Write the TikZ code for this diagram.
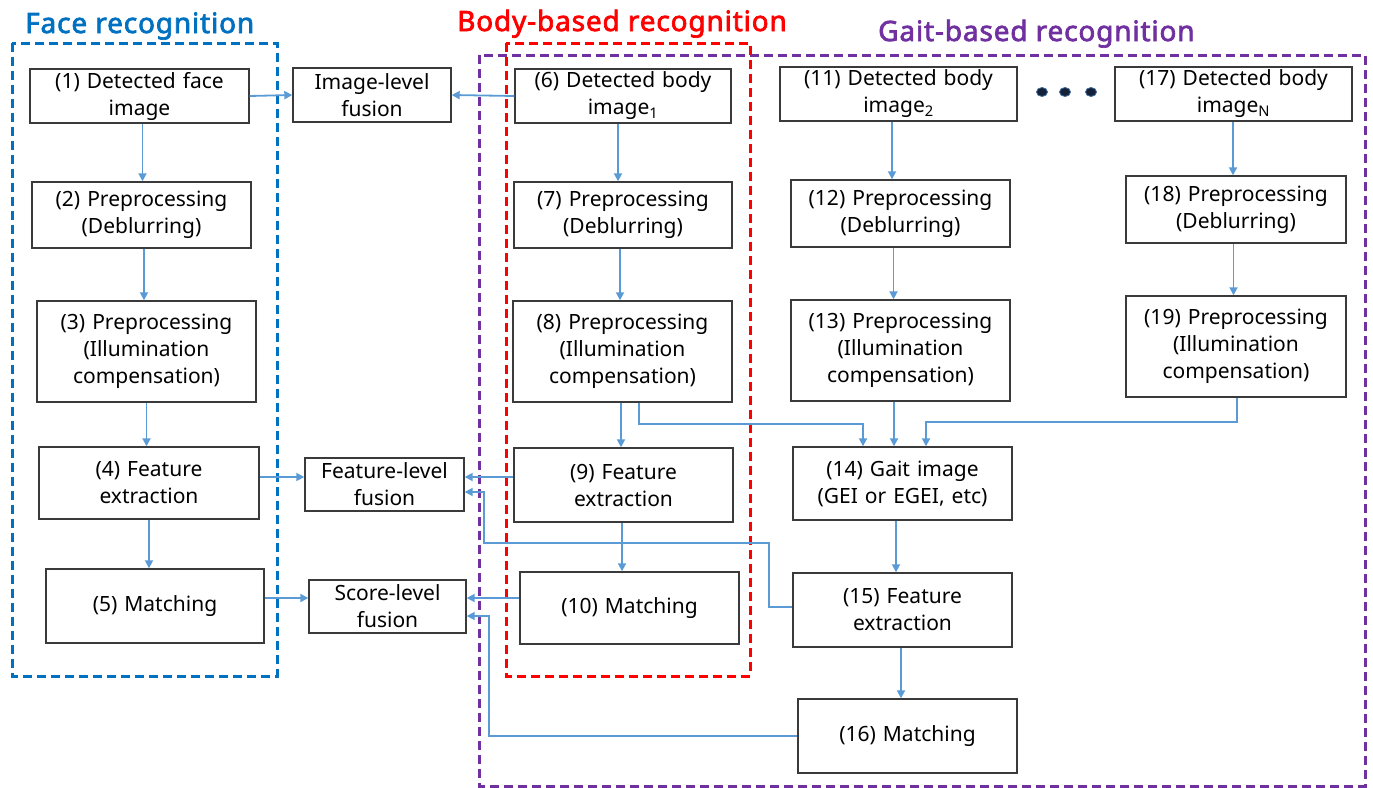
\documentclass[tikz,border=0pt]{standalone}
\usepackage{fontspec}
\setmainfont{Noto Sans}
\newfontfamily\ttlfont{Noto Sans}[AutoFakeBold=2.5,LetterSpace=3]
\usetikzlibrary{arrows.meta,calc}
\definecolor{facec}{HTML}{0070C0}
\definecolor{bodyc}{HTML}{FF0000}
\definecolor{gaitc}{HTML}{7030A0}
\definecolor{conn}{HTML}{5B9BD5}
\definecolor{boxc}{HTML}{3A3A3A}
\definecolor{dotc}{HTML}{14213A}
\begin{document}
\begin{tikzpicture}[x=1pt,y=-1pt,
  bx/.style={draw=boxc,line width=1.4pt,fill=white,inner sep=0pt,align=center,
    font=\fontsize{21}{27}\selectfont,text width=#1-8pt,minimum width=#1},
  bx/.default=219pt,
  frame/.style={line width=3pt,dash pattern=on 9pt off 5pt},
  ttl/.style={anchor=base west,inner sep=0pt,font=\ttlfont\fontsize{28}{30}\selectfont\bfseries},
  arr/.style={draw=conn,line width=1.8pt,-{Triangle[length=8pt,width=8pt]}},
  ln/.style={draw=conn,line width=1.8pt}]
\useasboundingbox (0,0) rectangle (1373,787);

% titles
\node[ttl,text=facec] (tface) at (25,33) {Face recognition};
\node[ttl,text=bodyc] (tbody) at (457,31) {Body-based recognition};
\node[ttl,text=gaitc] (tgait) at (878,41) {Gait-based recognition};

% dashed frames
\draw[frame,draw=facec] (12,43) rectangle (277,676);
\draw[frame,draw=gaitc] (479,55) rectangle (1365,786);
\draw[frame,draw=bodyc] (506,43) rectangle (750,676);

% boxes
\node[bx,minimum height=54pt] (n1) at (139.5,96) {(1) Detected face\\image};
\node[bx=158pt,minimum height=54pt] (nIL) at (372,95) {Image-level\\fusion};
\node[bx,minimum height=66pt] (n2) at (141.5,215) {(2) Preprocessing\\(Deblurring)};
\node[bx,minimum height=101pt] (n3) at (146.5,351.5) {(3) Preprocessing\\(Illumination\\compensation)};
\node[bx=220pt,minimum height=72pt] (n4) at (149,483) {(4) Feature\\extraction};
\node[bx=159pt,minimum height=53pt] (nFL) at (384.5,484.5) {Feature-level\\fusion};
\node[bx=218pt,minimum height=74pt] (n5) at (155,606) {(5) Matching};
\node[bx=157pt,minimum height=53pt] (nSL) at (387.5,606.5) {Score-level\\fusion};

\node[bx=216pt,minimum height=54pt] (n6) at (623,96) {(6) Detected body\\image\textsubscript{1}};
\node[bx=218pt,minimum height=66pt] (n7) at (623,215) {(7) Preprocessing\\(Deblurring)};
\node[bx,minimum height=101pt] (n8) at (622.5,351.5) {(8) Preprocessing\\(Illumination\\compensation)};
\node[bx,minimum height=74pt] (n9) at (623.5,485) {(9) Feature\\extraction};
\node[bx,minimum height=72pt] (n10) at (629.5,608) {(10) Matching};

\node[bx=237pt,minimum height=54pt] (n11) at (898.5,94) {(11) Detected body\\image\textsubscript{2}};
\node[bx,minimum height=67pt] (n12) at (900.5,213.5) {(12) Preprocessing\\(Deblurring)};
\node[bx,minimum height=101pt] (n13) at (900.5,350.5) {(13) Preprocessing\\(Illumination\\compensation)};
\node[bx,minimum height=73pt] (n14) at (902.5,483.5) {(14) Gait image\\(GEI or EGEI, etc)};
\node[bx,minimum height=74pt] (n15) at (902.5,610) {(15) Feature\\extraction};
\node[bx,minimum height=74pt] (n16) at (907.5,736) {(16) Matching};

\node[bx=237pt,minimum height=54pt] (n17) at (1233.5,94) {(17) Detected body\\image\textsubscript{N}};
\node[bx=220pt,minimum height=67pt] (n18) at (1236,209.5) {(18) Preprocessing\\(Deblurring)};
\node[bx=220pt,minimum height=101pt] (n19) at (1236,346.5) {(19) Preprocessing\\(Illumination\\compensation)};

% dots
\foreach \i/\x in {1/1042,2/1065,3/1091}
  \fill[dotc,draw=conn!60!dotc,line width=0.8pt] (\x,92) ellipse [x radius=5.5pt,y radius=4.5pt];

% helper coordinates
\coordinate (flL) at ([yshift=7.5pt]nFL.west);
\coordinate (flR) at ([yshift=7.5pt]nFL.east);
\coordinate (flR2) at ([yshift=-7.5pt]nFL.east);
\coordinate (slL) at ([yshift=8.5pt]nSL.west);
\coordinate (slR) at ([yshift=8.5pt]nSL.east);
\coordinate (slR2) at ([yshift=-9.5pt]nSL.east);

% face column
\draw[arr] ([xshift=3pt]n1.south) -- ([xshift=3pt]n1.south |- n2.north);
\draw[arr] ([xshift=2.5pt]n2.south) -- ([xshift=2.5pt]n2.south |- n3.north);
\draw[arr] (n3.south) -- (n3.south |- n4.north);
\draw[arr] (n4.south) -- (n4.south |- n5.north);
\draw[arr] (n1.east) -- (nIL.west);
\draw[arr] (n4.east |- flL) -- (flL);
\draw[arr] (n5.east |- slL) -- (slL);

% body column
\draw[arr] ([xshift=-5pt]n6.south) -- ([xshift=-5pt]n6.south |- n7.north);
\draw[arr] ([xshift=-3pt]n7.south) -- ([xshift=-3pt]n7.south |- n8.north);
\draw[arr] ([xshift=-1.5pt]n8.south) -- ([xshift=-1.5pt]n8.south |- n9.north);
\draw[arr] ([xshift=-1.5pt]n9.south) -- ([xshift=-1.5pt]n9.south |- n10.north);
\draw[arr] (n6.west) -- (nIL.east);
\draw[arr] (n9.west |- flR) -- (flR);
\draw[arr] (n10.west |- slR) -- (slR);

% gait column
\draw[arr] ([xshift=-6.5pt]n11.south) -- ([xshift=-6.5pt]n11.south |- n12.north);
\draw[arr] ([xshift=-7pt]n12.south) -- ([xshift=-7pt]n12.south |- n13.north);
\draw[arr] ([xshift=-6.5pt]n13.south) -- ([xshift=-6.5pt]n13.south |- n14.north);
\draw[arr] ([xshift=-6.5pt]n14.south) -- ([xshift=-6.5pt]n14.south |- n15.north);
\draw[arr] ([xshift=-1.5pt]n15.south) -- ([xshift=-1.5pt]n15.south |- n16.north);
\draw[arr] ([xshift=-0.5pt]n17.south) -- ([xshift=-0.5pt]n17.south |- n18.north);
\draw[arr] ([xshift=-2.5pt]n18.south) -- ([xshift=-2.5pt]n18.south |- n19.north);
\draw[arr] ([xshift=16.5pt]n8.south) -- ++(0,21) -| ([xshift=-39.5pt]n14.north);
\draw[arr] ([xshift=1pt]n19.south) -- ++(0,24) -| ([xshift=23.5pt]n14.north);
\draw[arr] ([yshift=3pt]n15.west) -- ++(-23,0) -- ++(0,-64) -- ++(-285,0) |- (flR2);
\draw[arr] (n16.west) -- ++(-308,0) |- (slR2);
\end{tikzpicture}
\end{document}
